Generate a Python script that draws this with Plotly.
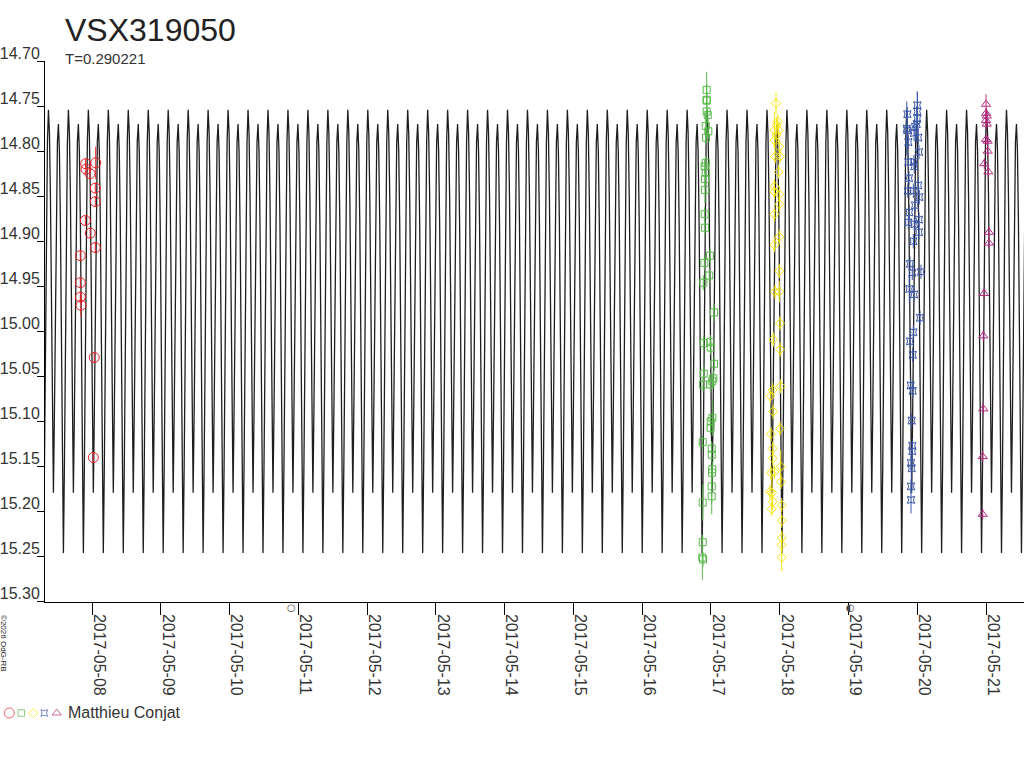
import numpy as np
import pandas as pd
import plotly.graph_objects as go

# Light curve of VSX319050 (May 2017), model + observations by Matthieu Conjat
star_name = "VSX319050"
period = 0.290221  # days

# one cycle of the model curve, phase counted from primary minimum
model_phase = [0.00, 0.05, 0.10, 0.15, 0.20, 0.25, 0.30, 0.35, 0.40, 0.45,
               0.50, 0.55, 0.60, 0.65, 0.70, 0.75, 0.80, 0.85, 0.90, 0.95]
model_mag = [15.246, 15.150, 15.000, 14.870, 14.790, 14.754, 14.780, 14.850, 14.960, 15.090,
             15.179, 15.090, 14.960, 14.860, 14.790, 14.770, 14.800, 14.880, 15.010, 15.160]
model_epoch = 12.518  # May 2017, decimal day (UT) of a primary minimum

# observations: decimal day of May 2017, magnitude, error
red_day = [7.908, 8.054, 7.913, 7.971, 8.048, 8.048, 7.903, 7.975, 8.048, 7.830,
           7.830, 7.830, 7.840, 8.033, 8.019]
red_mag = [14.814, 14.813, 14.820, 14.825, 14.841, 14.856, 14.877, 14.891, 14.907, 14.916,
           14.946, 14.962, 14.971, 15.029, 15.140]
red_err = [0.006, 0.018, 0.006, 0.006, 0.006, 0.006, 0.006, 0.006, 0.006, 0.006,
           0.006, 0.006, 0.013, 0.006, 0.006]

green_day = [16.938, 16.938, 16.938, 16.938, 16.953, 16.924, 16.962, 16.928, 16.924, 16.909,
             16.924, 16.914, 16.914, 16.909, 16.914, 16.986, 16.904, 16.976, 16.889, 17.045,
             16.895, 16.991, 16.996, 17.045, 16.895, 17.034, 17.020, 16.885, 16.991, 17.020,
             16.996, 16.996, 16.880, 17.011, 17.011, 17.020, 17.015, 17.011, 17.011, 16.880,
             16.880, 16.875, 16.885]
green_mag = [14.732, 14.743, 14.744, 14.756, 14.760, 14.772, 14.778, 14.785, 14.813, 14.817,
             14.824, 14.831, 14.843, 14.870, 14.885, 14.916, 14.924, 14.938, 14.946, 14.979,
             15.013, 15.012, 15.018, 15.036, 15.047, 15.052, 15.055, 15.059, 15.059, 15.096,
             15.100, 15.107, 15.123, 15.130, 15.137, 15.153, 15.157, 15.172, 15.183, 15.190,
             15.234, 15.251, 15.253]
green_err = [0.020, 0.008, 0.008, 0.030, 0.008, 0.015, 0.008, 0.008, 0.008, 0.008,
             0.008, 0.008, 0.015, 0.008, 0.008, 0.008, 0.008, 0.008, 0.008, 0.010,
             0.008, 0.008, 0.008, 0.008, 0.008, 0.008, 0.008, 0.008, 0.008, 0.020,
             0.008, 0.008, 0.008, 0.008, 0.008, 0.008, 0.008, 0.020, 0.020, 0.020,
             0.008, 0.025, 0.008]

yellow_day = [17.946, 17.971, 17.956, 17.922, 17.985, 17.956, 17.922, 17.994, 17.932, 18.004,
              17.985, 17.922, 17.922, 17.994, 17.994, 17.922, 17.994, 17.922, 17.994, 17.932,
              17.994, 18.004, 17.907, 18.004, 18.014, 17.898, 17.863, 17.903, 18.004, 17.873,
              17.898, 17.898, 18.014, 17.873, 17.922, 18.019, 17.859, 17.888, 17.898, 18.029,
              17.884, 18.029, 18.029, 18.029, 18.029]
yellow_mag = [14.747, 14.767, 14.771, 14.777, 14.777, 14.782, 14.788, 14.795, 14.806, 14.806,
              14.823, 14.839, 14.845, 14.848, 14.859, 14.870, 14.895, 14.904, 14.933, 14.956,
              14.956, 14.991, 15.009, 15.020, 15.061, 15.065, 15.072, 15.089, 15.108, 15.114,
              15.130, 15.141, 15.150, 15.157, 15.156, 15.167, 15.178, 15.179, 15.189, 15.193,
              15.197, 15.210, 15.229, 15.237, 15.251]
yellow_err = [0.012, 0.008, 0.008, 0.020, 0.008, 0.008, 0.008, 0.008, 0.008, 0.008,
              0.008, 0.008, 0.008, 0.008, 0.008, 0.008, 0.008, 0.008, 0.008, 0.008,
              0.012, 0.008, 0.008, 0.008, 0.008, 0.008, 0.008, 0.008, 0.008, 0.008,
              0.008, 0.008, 0.018, 0.008, 0.008, 0.008, 0.008, 0.020, 0.008, 0.008,
              0.008, 0.008, 0.008, 0.008, 0.015]

blue_day = [20.001, 20.001, 19.856, 20.001, 19.992, 19.847, 19.967, 19.856, 19.953, 20.015,
            19.870, 20.025, 19.870, 19.953, 19.957, 19.880, 20.015, 19.862, 19.943, 20.030,
            19.967, 19.884, 20.025, 19.870, 19.957, 20.025, 19.943, 19.895, 19.928, 20.054,
            19.884, 19.953, 20.040, 19.943, 19.895, 19.934, 19.905, 19.934, 19.919, 19.928,
            19.928, 19.909, 19.919, 19.909, 19.909]
blue_mag = [14.749, 14.756, 14.759, 14.764, 14.770, 14.775, 14.773, 14.777, 14.780, 14.785,
            14.790, 14.801, 14.812, 14.812, 14.817, 14.830, 14.838, 14.844, 14.844, 14.851,
            14.860, 14.868, 14.876, 14.879, 14.881, 14.890, 14.900, 14.925, 14.935, 14.934,
            14.953, 14.959, 14.985, 15.001, 15.011, 15.026, 15.060, 15.066, 15.099, 15.127,
            15.133, 15.146, 15.152, 15.172, 15.187]
blue_err = [0.015, 0.022, 0.008, 0.008, 0.020, 0.030, 0.008, 0.008, 0.008, 0.008,
            0.008, 0.008, 0.008, 0.008, 0.008, 0.008, 0.008, 0.008, 0.008, 0.008,
            0.008, 0.008, 0.008, 0.008, 0.008, 0.008, 0.008, 0.008, 0.008, 0.008,
            0.015, 0.008, 0.008, 0.008, 0.008, 0.008, 0.008, 0.008, 0.008, 0.008,
            0.008, 0.008, 0.020, 0.008, 0.015]

magenta_day = [21.000, 21.000, 21.010, 21.000, 21.010, 21.000, 21.024, 21.024, 20.975, 21.033,
               21.043, 21.043, 20.971, 20.960, 20.960, 20.952, 20.952]
magenta_mag = [14.748, 14.758, 14.761, 14.766, 14.770, 14.787, 14.789, 14.800, 14.814, 14.823,
               14.890, 14.902, 14.958, 15.005, 15.086, 15.139, 15.203]
magenta_err = [0.011, 0.006, 0.006, 0.006, 0.006, 0.006, 0.006, 0.006, 0.006, 0.006,
               0.006, 0.006, 0.006, 0.006, 0.006, 0.006, 0.006]

# moon phases shown under the axis (full moon, last quarter)
moon_day = [10.904, 19.023]
moon_text = ["○", "◐"]

observer = "Matthieu Conjat"
copyright_text = "©2026 OdG-RB"

# axis settings
x_start, x_end = 7.3166, 21.552
y_ticks = [14.70, 14.75, 14.80, 14.85, 14.90, 14.95, 15.00, 15.05, 15.10, 15.15, 15.20, 15.25, 15.30]

W, H = 1024, 768
font = "Liberation Sans, Arial, sans-serif"


def may_day(d):
    return pd.Timestamp("2017-05-01") + pd.to_timedelta(np.asarray(d, dtype=float) - 1, unit="D")


# tile the one-cycle template over the whole time window
n0 = int(np.floor((x_start - model_epoch) / period)) - 1
n1 = int(np.ceil((x_end - model_epoch) / period)) + 1
curve_t, curve_m = [], []
for n in range(n0, n1 + 1):
    for ph, m in zip(model_phase, model_mag):
        curve_t.append(model_epoch + (n + ph) * period)
        curve_m.append(m)

fig = go.Figure()

fig.add_trace(go.Scatter(
    x=may_day(curve_t), y=curve_m, mode="lines",
    line=dict(color="#1e1e1e", width=1.3), hoverinfo="skip", showlegend=False))

series = [
    (red_day, red_mag, red_err, "#ec2027", "circle-open", 10),
    (green_day, green_mag, green_err, "#58b84a", "square-open", 7),
    (yellow_day, yellow_mag, yellow_err, "#f5e50a", "diamond-open", 7),
    (blue_day, blue_mag, blue_err, "#3a56a8", "star-square-open", 6.5),
    (magenta_day, magenta_mag, magenta_err, "#b5287f", "triangle-up-open", 8),
]
for day, mag, err, col, sym, size in series:
    fig.add_trace(go.Scatter(
        x=may_day(day), y=mag, mode="markers",
        marker=dict(symbol=sym, size=size, color=col, line=dict(color=col, width=1)),
        error_y=dict(type="data", array=err, width=0, thickness=1, color=col),
        showlegend=False))

# legend row at the bottom, drawn on a pixel-space overlay
legend_x = [9.3, 21.3, 33.3, 44.3, 56.7]
legend_sym = [s[4] for s in series]
legend_col = [s[3] for s in series]
legend_size = [10, 6.5, 7, 6, 8]
fig.add_trace(go.Scatter(
    x=legend_x, y=[713] * 5, mode="markers", xaxis="x2", yaxis="y2",
    marker=dict(symbol=legend_sym, size=legend_size, color=legend_col,
                line=dict(color=legend_col, width=1)),
    showlegend=False, hoverinfo="skip"))

fig.update_layout(
    width=W, height=H,
    margin=dict(l=0, r=0, t=0, b=0),
    paper_bgcolor="white", plot_bgcolor="rgba(0,0,0,0)",
    font=dict(family=font, color="#333333"),
    xaxis=dict(
        type="date", domain=[45 / W, 1],
        range=[may_day(x_start), may_day(x_end)],
        tick0="2017-05-08", dtick=86400000, tickformat="%Y-%m-%d",
        tickangle=90, ticks="outside", ticklen=12, tickcolor="black",
        tickfont=dict(size=16, color="#333333"), ticklabelshift=7, ticklabelstandoff=-4,
        showline=True, linecolor="black", linewidth=1, automargin=False,
        showgrid=False, zeroline=False, anchor="y"),
    yaxis=dict(
        domain=[1 - 601.7 / H, 1 - 61 / H],
        range=[15.30, 14.70], tickvals=y_ticks, tickformat=".2f",
        ticks="outside", ticklen=7, tickcolor="black",
        tickfont=dict(size=16, color="#333333"), ticklabelshift=8, ticklabelstandoff=-6,
        showline=True, linecolor="black", linewidth=1, automargin=False,
        showgrid=False, zeroline=False, anchor="x"),
    xaxis2=dict(domain=[0, 1], range=[0, W], visible=False, anchor="y2",
                fixedrange=True, automargin=False),
    yaxis2=dict(domain=[0, 1], range=[H, 0], visible=False, anchor="x2",
                fixedrange=True, automargin=False),
)

# moon phase symbols just below the time axis
for d, sym in zip(moon_day, moon_text):
    fig.add_annotation(text=sym, xref="x", yref="paper", x=may_day(d), y=1 - 607 / H,
                       xanchor="center", yanchor="middle", showarrow=False,
                       font=dict(size=10, color="#444444", family="DejaVu Sans"))

fig.add_annotation(text=star_name, xref="paper", yref="paper", x=63 / W, y=1 - 30 / H,
                   xanchor="left", yanchor="middle", showarrow=False,
                   font=dict(size=32, color="#222222"))
fig.add_annotation(text=f"T={period}", xref="paper", yref="paper", x=63 / W, y=1 - 58 / H,
                   xanchor="left", yanchor="middle", showarrow=False,
                   font=dict(size=15, color="#333333"))
fig.add_annotation(text=observer, xref="paper", yref="paper", x=66 / W, y=1 - 712 / H,
                   xanchor="left", yanchor="middle", showarrow=False,
                   font=dict(size=16, color="#333333"))
fig.add_annotation(text=copyright_text, xref="paper", yref="paper", x=4 / W, y=1 - 643 / H,
                   xanchor="center", yanchor="middle", showarrow=False, textangle=90,
                   font=dict(size=8, color="#222222"))

# the page body has a default margin; drop it so the figure sits at the corner
fig.write_html("out.html", config={"displayModeBar": False},
               post_script="document.body.style.margin='0';")
